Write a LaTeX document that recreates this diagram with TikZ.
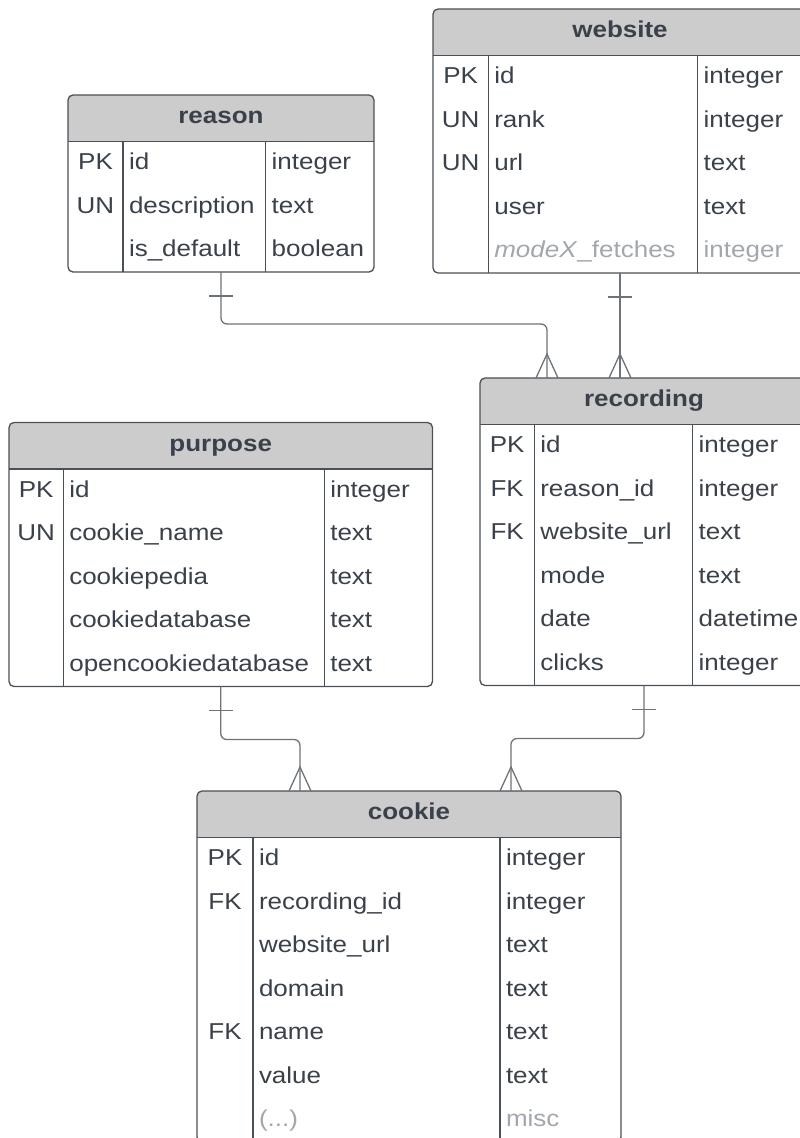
\documentclass[tikz,border=0pt]{standalone}
\usepackage{fontspec}
\setmainfont[FakeStretch=1.13]{Liberation Sans}
\usetikzlibrary{calc}

\definecolor{ink}{HTML}{3A414A}
\definecolor{muted}{HTML}{A2A7AE}
\definecolor{edge}{HTML}{4A5058}
\definecolor{hdr}{HTML}{CCCCCC}
\definecolor{wire}{HTML}{6E7378}

\tikzset{
  tblbox/.style={draw=none, fill=white, inner sep=0pt, outer sep=0pt, rectangle},
  border/.style={draw=edge, line width=1.3pt, rounded corners=5pt},
  rule/.style={draw=edge, line width=1.1pt},
  cell/.style={inner sep=0pt, outer sep=0pt, text=ink, font=\fontsize{23}{27}\selectfont},
  ttl/.style={cell, font=\fontsize{23}{27}\selectfont\bfseries},
  wire/.style={draw=wire, line width=1.3pt, rounded corners=6pt},
  tick/.style={draw=wire, line width=1.3pt},
}

\newcommand\faded[1]{\textcolor{muted}{#1}}

% entity table: name, left, top, width, rows, key column, type column, title, rows
\newcommand\erTable[9]{%
  \pgfmathsetmacro\erH{46.5+43.5*#5}%
  \node[tblbox, minimum width=#4pt, minimum height=\erH pt, anchor=north west] (#1) at (#2,#3) {};
  \begin{scope}
    \clip[rounded corners=5pt] (#1.north west) rectangle (#1.south east);
    \fill[hdr] (#1.north west) rectangle ($(#1.north east)+(0,46.5)$);
  \end{scope}
  \draw[border] (#1.north west) rectangle (#1.south east);
  \draw[rule] ($(#1.north west)+(0,46.5)$) -- ($(#1.north east)+(0,46.5)$);
  \draw[rule] ($(#1.north west)+(#6,46.5)$) -- ($(#1.south west)+(#6,0)$);
  \draw[rule] ($(#1.north west)+(#7,46.5)$) -- ($(#1.south west)+(#7,0)$);
  \node[ttl, anchor=base] (#1-title) at ($(#1.north)+(0,28.5)$) {#8};
  \foreach \ek/\en/\et [count=\ei] in {#9} {
    \pgfmathsetmacro\yy{46.5+43.5*\ei-21.75+6.5}
    \node[cell, anchor=base] (#1-k\ei) at ($(#1.north west)+(#6/2,\yy)$) {\ek};
    \node[cell, anchor=base west] (#1-n\ei) at ($(#1.north west)+(#6+6,\yy)$) {\en};
    \node[cell, anchor=base west] (#1-t\ei) at ($(#1.north west)+(#7+6,\yy)$) {\et};
  }
}

% relationship ends
\newcommand\onebar[1]{\draw[tick] ($(#1)+(-12,24)$) -- ($(#1)+(12,24)$);}
\newcommand\crowfoot[1]{\draw[tick] ($(#1)+(-11,0)$) -- ($(#1)+(0,-24)$) -- ($(#1)+(11,0)$);}

\begin{document}
\begin{tikzpicture}[x=1pt, y=-1pt]
  \useasboundingbox (0,0) rectangle (800,1138);
  \clip (0,0) rectangle (800,1138);

  \erTable{reason}{68}{95}{306}{3}{55}{197.7}{reason}
    {PK/id/integer, UN/description/text, /is\_default/boolean}

  \erTable{website}{433}{9}{374}{5}{55.3}{264.7}{website}
    {PK/id/integer, UN/rank/integer, UN/url/text, /user/text,
     /{\faded{\textit{modeX}\_fetches}}/{\faded{integer}}}

  \erTable{recording}{480}{378}{328}{6}{54.3}{212.7}{recording}
    {PK/id/integer, FK/reason\_id/integer, FK/website\_url/text,
     /mode/text, /date/datetime, /clicks/integer}

  \erTable{purpose}{9}{422.5}{423.5}{5}{54.3}{315.3}{purpose}
    {PK/id/integer, UN/cookie\_name/text, /cookiepedia/text,
     /cookiedatabase/text, /opencookiedatabase/text}

  \erTable{cookie}{197}{791}{424}{7}{56}{303}{cookie}
    {PK/id/integer, FK/recording\_id/integer, /website\_url/text,
     /domain/text, FK/name/text, /value/text, /{\faded{(...)}}/{\faded{misc}}}

  % attachment points on the many side
  \coordinate (rec-in1) at ($(recording.north west)+(67,0)$);
  \coordinate (rec-in2) at (website.south |- recording.north);
  \coordinate (ck-in1) at ($(cookie.north west)+(103,0)$);
  \coordinate (ck-in2) at ($(cookie.north west)+(314,0)$);

  % relationships
  \draw[wire] (reason.south) -- ++(0,52) -| (rec-in1);
  \draw[wire] (website.south) -- (rec-in2);
  \draw[wire] (purpose.south) -- ++(0,53) -| (ck-in1);
  \draw[wire] (recording.south) -- ++(0,53) -| (ck-in2);

  \onebar{reason.south}
  \onebar{website.south}
  \onebar{purpose.south}
  \onebar{recording.south}
  \crowfoot{rec-in1}
  \crowfoot{rec-in2}
  \crowfoot{ck-in1}
  \crowfoot{ck-in2}
\end{tikzpicture}
\end{document}
